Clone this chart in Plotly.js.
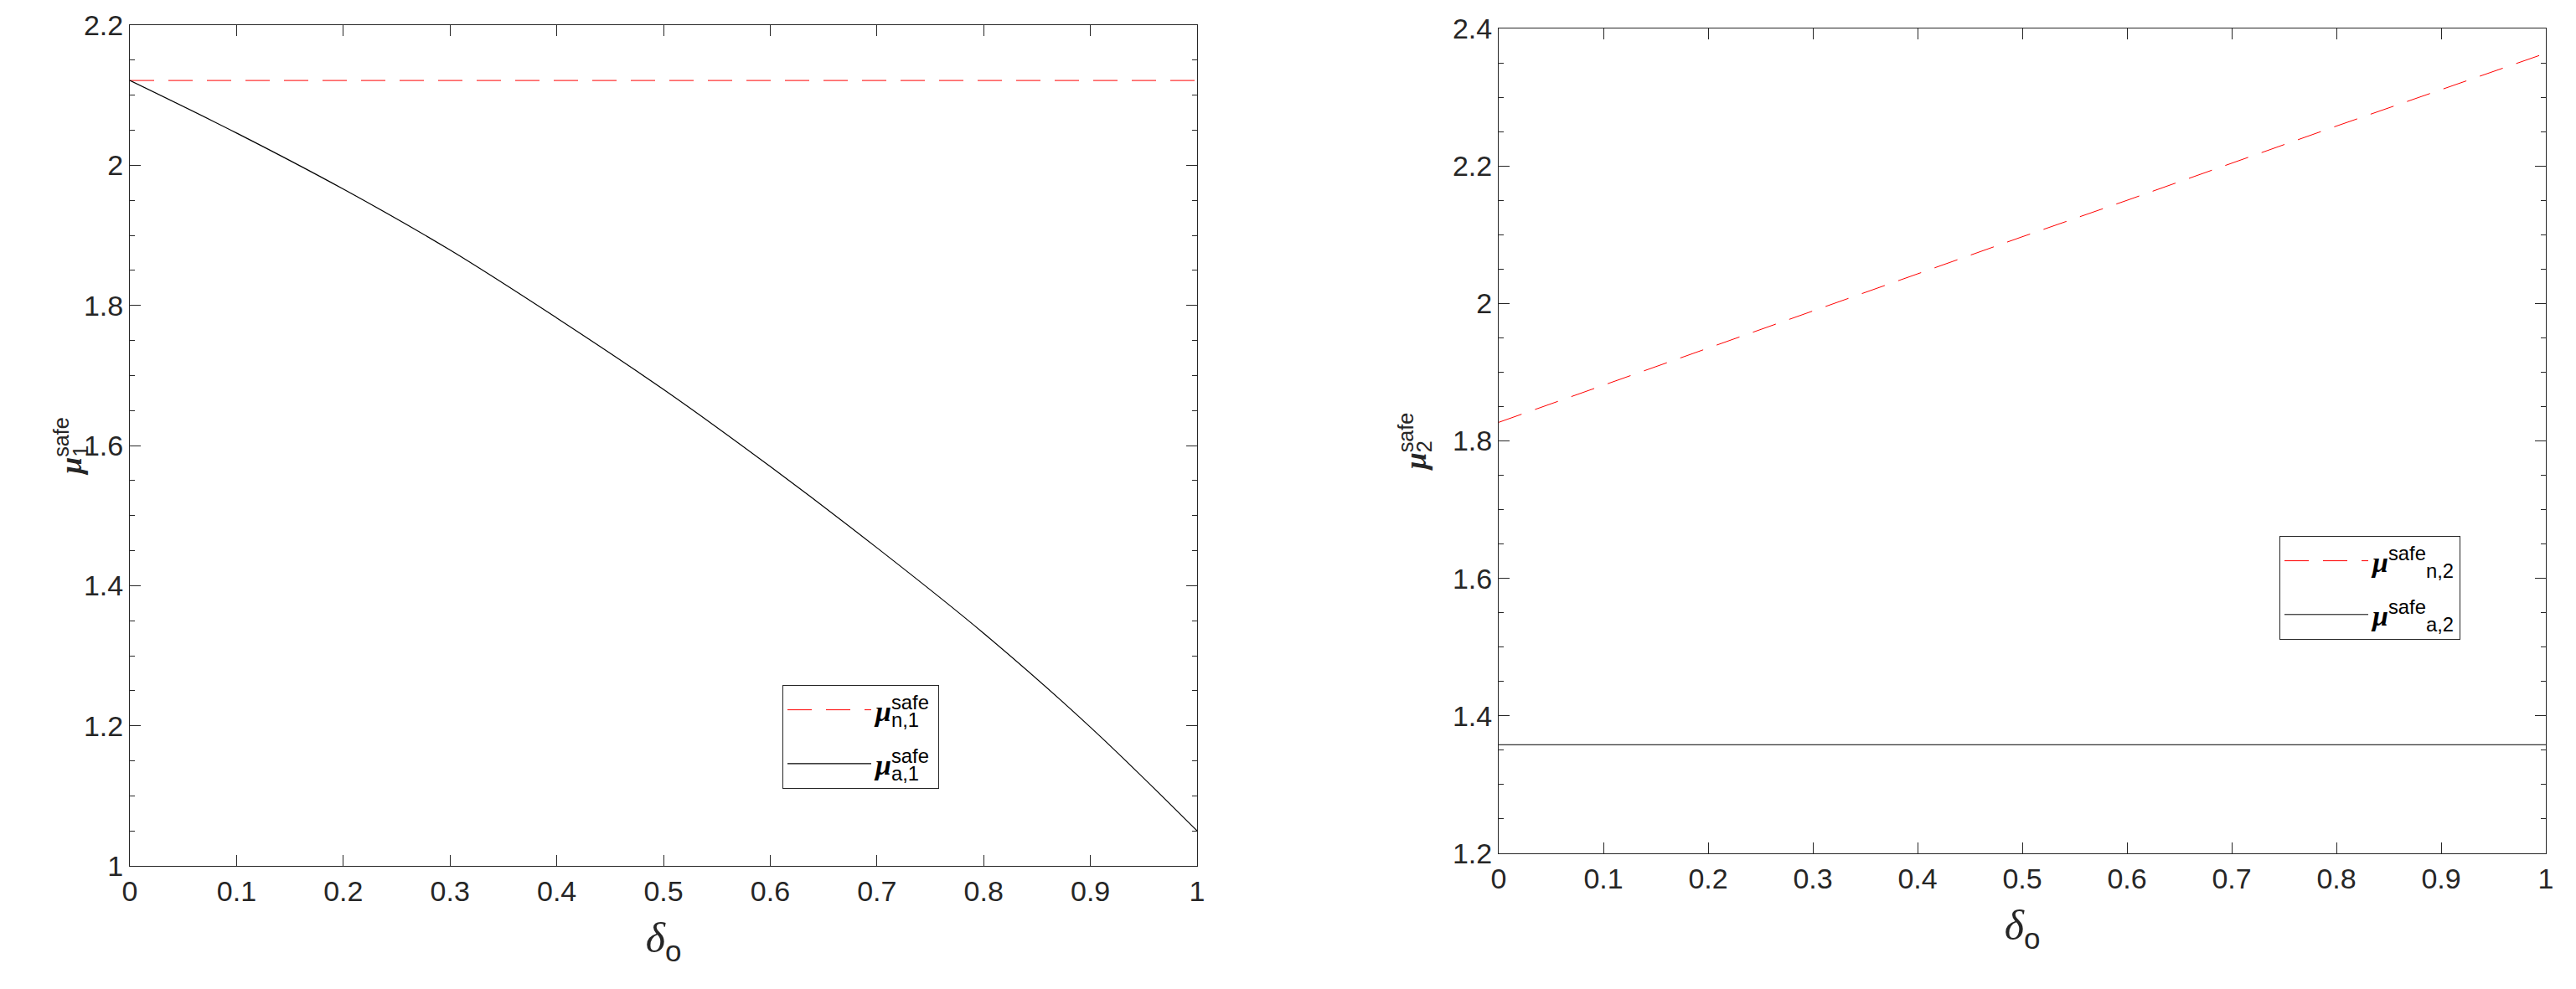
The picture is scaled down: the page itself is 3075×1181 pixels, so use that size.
<!DOCTYPE html>
<html>
<head>
<meta charset="utf-8">
<script src="https://cdn.plot.ly/plotly-3.0.1.min.js"></script>
<style>html,body{margin:0;padding:0;background:#fff;}</style>
</head>
<body>
<div id="chart" style="width:3075px;height:1181px;"></div>
<script>
// ---- data ----
const delta = [0, 0.1, 0.2, 0.3, 0.4, 0.5, 0.6, 0.7, 0.8, 0.9, 1.0];
const muN1 = [2.121, 2.121, 2.121, 2.121, 2.121, 2.121, 2.121, 2.121, 2.121, 2.121, 2.121];
const muA1 = [2.121, 2.046, 1.966, 1.879, 1.782, 1.680, 1.570, 1.454, 1.332, 1.198, 1.050];
const muN2 = [1.827, 1.881, 1.935, 1.989, 2.043, 2.097, 2.150, 2.204, 2.258, 2.311, 2.364];
const muA2 = [1.358, 1.358, 1.358, 1.358, 1.358, 1.358, 1.358, 1.358, 1.358, 1.358, 1.358];
const names = ['n,1', 'a,1', 'n,2', 'a,2'];
const yTitleSubs = ['1', '2'];
const xTitle = '<span style="font-family:Liberation Serif;font-style:italic">δ</span><sub>o</sub>';

const W = 3075, H = 1181;
const mu = '<span style="font-family:Liberation Serif;font-weight:bold;font-style:italic">μ</span>';
function muLabel(s) { return mu + '<sup>safe</sup><sub>' + s + '</sub>'; }

const tickFont = {family: 'Liberation Sans, Arial, sans-serif', size: 34, color: '#262626'};
const axBase = {
  showline: true, linecolor: '#262626', linewidth: 1, mirror: 'allticks',
  ticks: 'inside', ticklen: 13, tickwidth: 1, tickcolor: '#262626',
  showgrid: false, zeroline: false, tickfont: tickFont, fixedrange: true
};
const yMinor = {dtick: 0.05, ticklen: 6, ticks: 'inside', tickcolor: '#262626', tickwidth: 1, showgrid: false};
const titleFontX = {family: 'Liberation Sans, Arial, sans-serif', size: 50, color: '#262626'};
const titleFontY = {family: 'Liberation Sans, Arial, sans-serif', size: 36, color: '#262626'};

const traces = [
  {x: delta, y: muN1, mode: 'lines', name: muLabel(names[0]), xaxis: 'x', yaxis: 'y', legend: 'legend', legendgroup: 'g1',
   line: {color: '#ff0000', width: 1, dash: '29px,17px'}},
  {x: delta, y: muA1, mode: 'lines', name: muLabel(names[1]), xaxis: 'x', yaxis: 'y', legend: 'legend', legendgroup: 'g2',
   line: {color: '#000000', width: 1.2, shape: 'spline'}},
  {x: delta, y: muN2, mode: 'lines', name: muLabel(names[2]), xaxis: 'x2', yaxis: 'y2', legend: 'legend2', legendgroup: 'g3',
   line: {color: '#ff0000', width: 1, dash: '29px,17px'}},
  {x: delta, y: muA2, mode: 'lines', name: muLabel(names[3]), xaxis: 'x2', yaxis: 'y2', legend: 'legend2', legendgroup: 'g4',
   line: {color: '#000000', width: 1}}
];

const legBase = {
  xanchor: 'left', yanchor: 'top', bgcolor: '#ffffff', bordercolor: '#262626', borderwidth: 1,
  font: {family: 'Liberation Sans, Arial, sans-serif', size: 34, color: '#000000'},
  itemwidth: 100, tracegroupgap: 17, itemclick: false, itemdoubleclick: false
};

const layout = {
  width: W, height: H, margin: {l: 0, r: 0, t: 0, b: 0},
  paper_bgcolor: '#ffffff', plot_bgcolor: '#ffffff', showlegend: true,
  xaxis: Object.assign({}, axBase, {domain: [155 / W, 1429 / W], range: [0, 1], tick0: 0, dtick: 0.1, anchor: 'y',
    title: {text: xTitle, font: titleFontX, standoff: 20}}),
  yaxis: Object.assign({}, axBase, {domain: [1 - 1034 / H, 1 - 30 / H], range: [1, 2.2], tick0: 1, dtick: 0.2, anchor: 'x',
    minor: yMinor, title: {text: muLabel(yTitleSubs[0]), font: titleFontY, standoff: 0}}),
  xaxis2: Object.assign({}, axBase, {domain: [1789 / W, 3039 / W], range: [0, 1], tick0: 0, dtick: 0.1, anchor: 'y2',
    title: {text: xTitle, font: titleFontX, standoff: 20}}),
  yaxis2: Object.assign({}, axBase, {domain: [1 - 1019 / H, 1 - 34 / H], range: [1.2, 2.4], tick0: 1.2, dtick: 0.2, anchor: 'x2',
    minor: yMinor, title: {text: muLabel(yTitleSubs[1]), font: titleFontY, standoff: 20}}),
  legend: Object.assign({}, legBase, {x: 934 / W, y: 1 - 818 / H}),
  legend2: Object.assign({}, legBase, {x: 2721 / W, y: 1 - 640 / H})
};

function pxSize(el) { return parseFloat(getComputedStyle(el).fontSize) || 0; }
function dyPx(el) {
  const v = el.getAttribute('dy');
  if (!v) return 0;
  const n = parseFloat(v);
  return /em$/.test(v) ? n * pxSize(el) : n;
}

// Fold plotly's zero-width baseline-reset spans into their neighbours (pixel offsets).
function foldResets(textEl) {
  const ts = Array.from(textEl.querySelectorAll('tspan'));
  let carry = 0;
  ts.forEach(t => {
    if (!t.parentNode) return;
    const txt = t.textContent;
    if (txt.length && txt.replace(/\u200b/g, '') === '' && t.children.length === 0) {
      carry += dyPx(t);
      t.parentNode.removeChild(t);
    } else if (carry !== 0 && t.children.length === 0 && txt.length) {
      t.setAttribute('dy', (dyPx(t) + carry).toFixed(2));
      carry = 0;
    }
  });
}

// Stack the superscript "safe" above the subscript, TeX style.
function stackScripts(textEl) {
  const ts = Array.from(textEl.querySelectorAll('tspan'));
  const sup = ts.find(t => t.textContent === 'safe');
  if (!sup) return;
  const idx = ts.indexOf(sup);
  const sub = ts.slice(idx + 1).find(t => t.textContent.replace(/\u200b/g, '').length > 0);
  if (!sub) return;
  const w = sup.getComputedTextLength();
  sub.setAttribute('dx', (-w).toFixed(1));
}

Plotly.newPlot('chart', traces, layout, {staticPlot: true, displayModeBar: false, responsive: false}).then(gd => {
  try {
    gd.querySelectorAll('text.legendtext, text.ytitle, text.y2title, text.xtitle, text.x2title').forEach(t => {
      foldResets(t);
      stackScripts(t);
    });
    gd.querySelectorAll('rect.bg').forEach(bg => {
      const g = bg.parentNode;
      const texts = g.querySelectorAll('text.legendtext');
      if (!texts.length) return;
      const left = bg.getBoundingClientRect().left;
      let maxR = 0;
      texts.forEach(t => { maxR = Math.max(maxR, t.getBoundingClientRect().right); });
      if (maxR > left) bg.setAttribute('width', (maxR - left + 12).toFixed(1));
    });
    const yt = gd.querySelector('text.ytitle');
    if (yt) yt.setAttribute('transform', 'translate(10,0) ' + (yt.getAttribute('transform') || ''));
  } catch (e) { console.log(e); }
});
</script>
</body>
</html>
